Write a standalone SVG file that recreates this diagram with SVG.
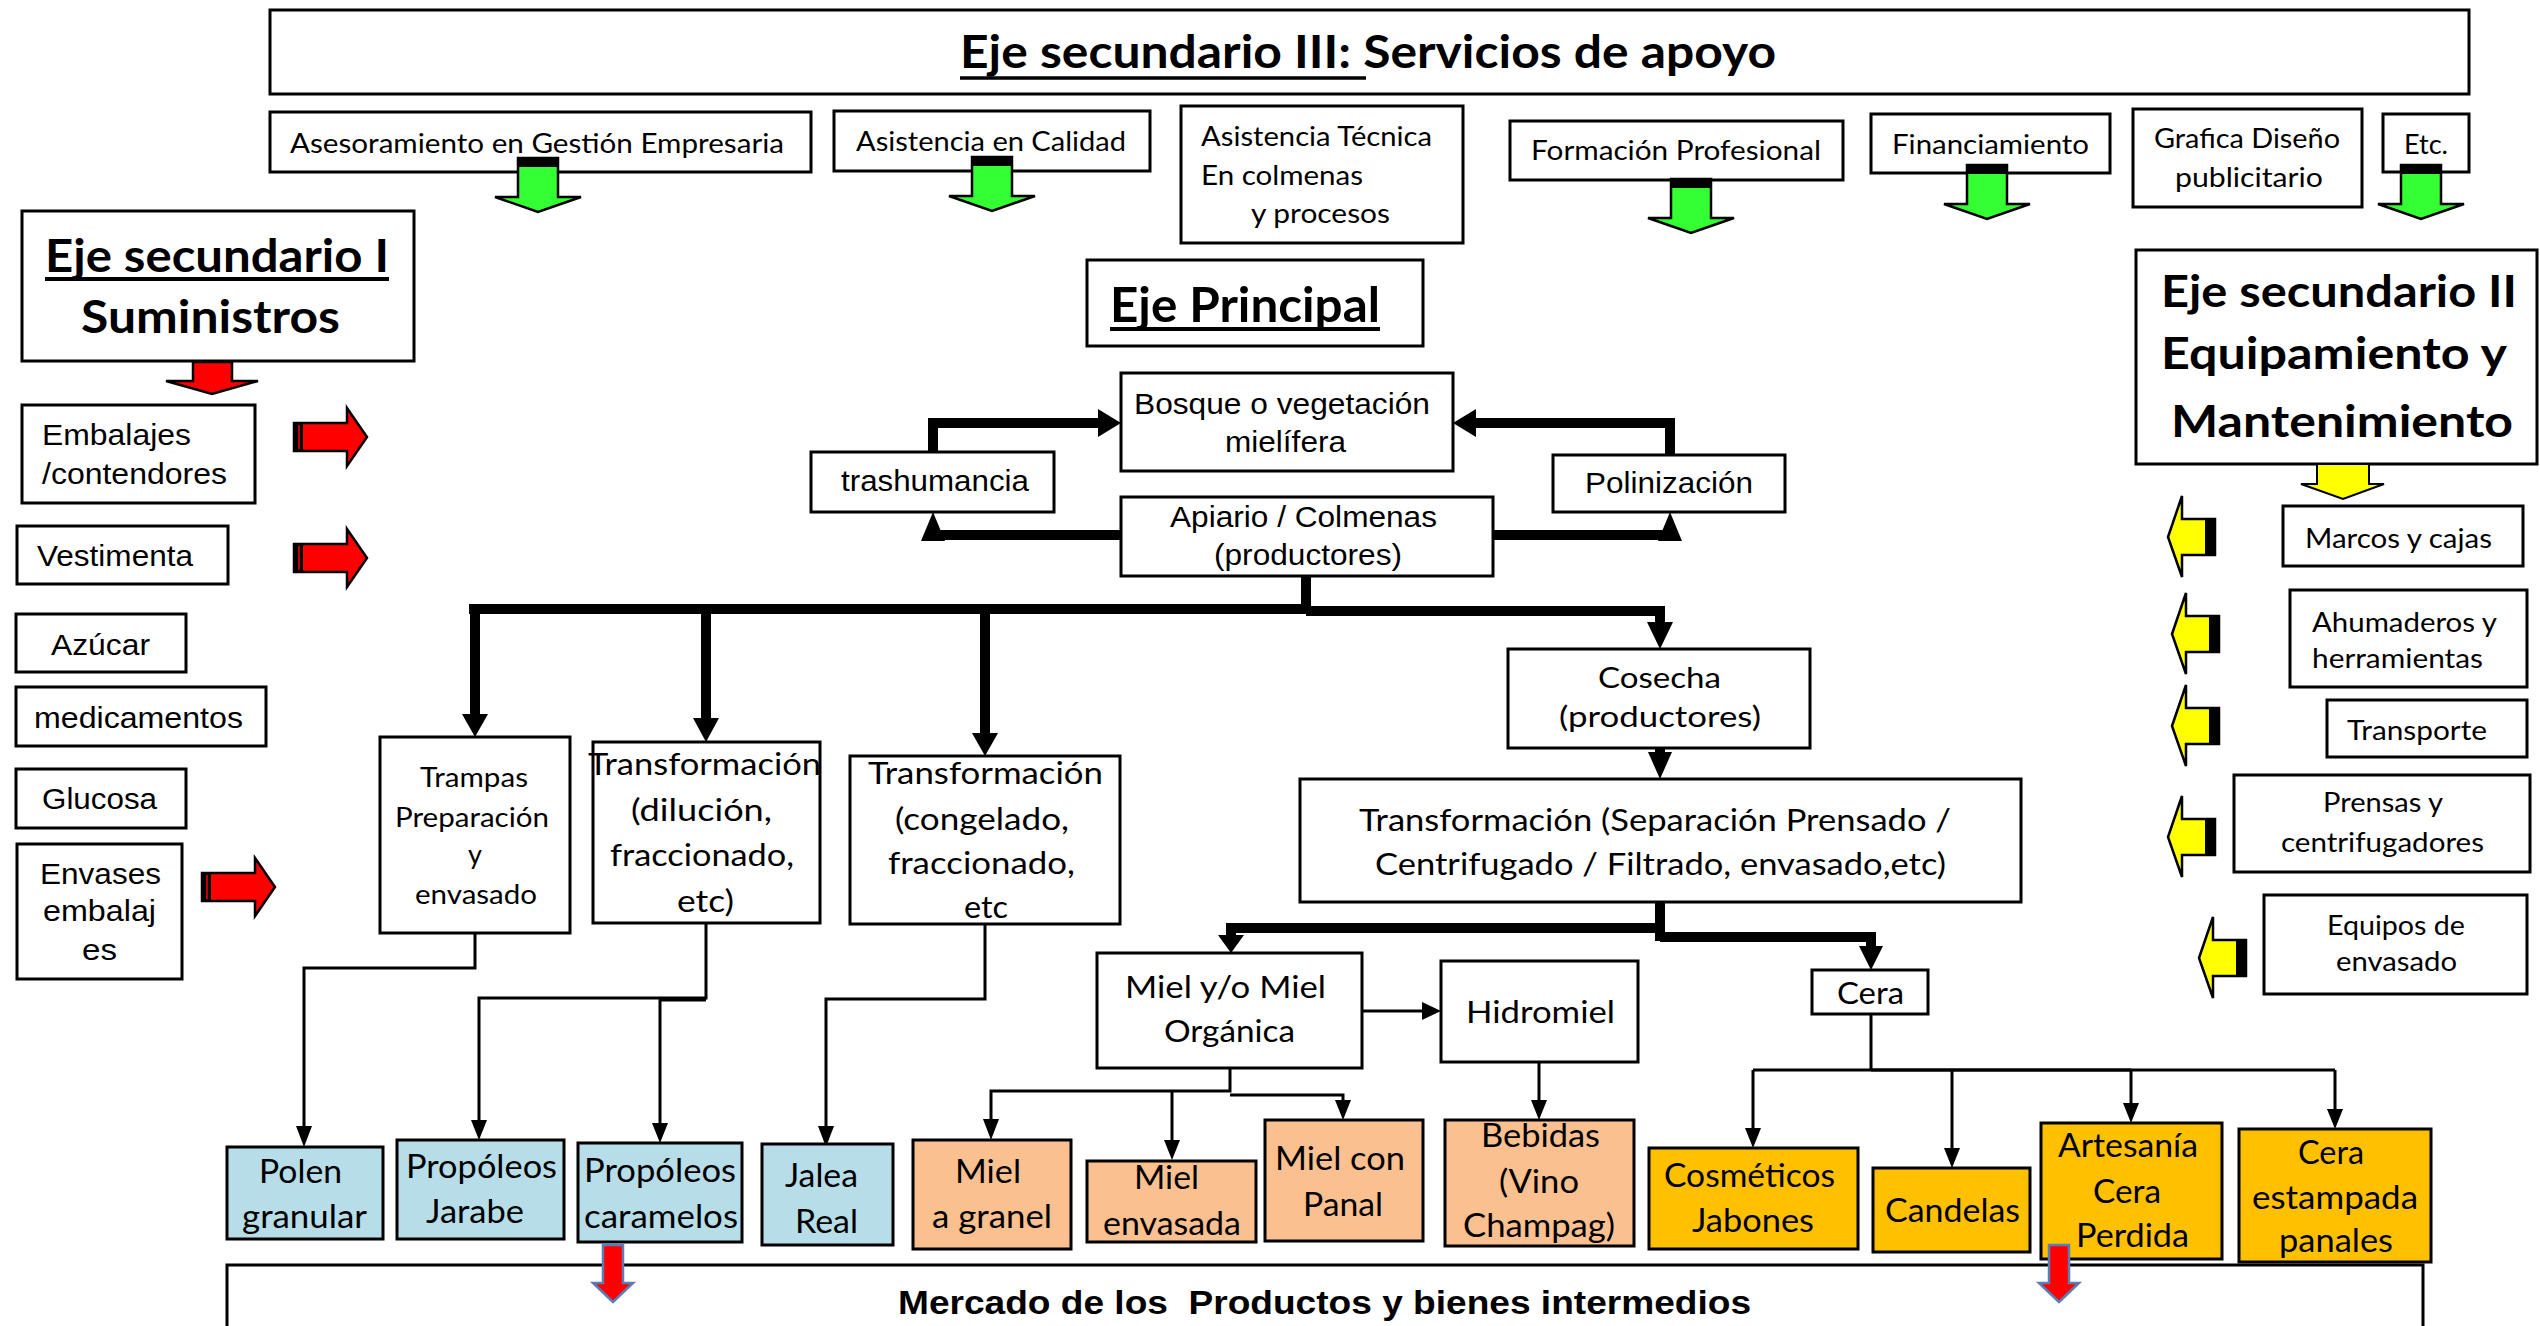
<svg xmlns="http://www.w3.org/2000/svg" xmlns:xlink="http://www.w3.org/1999/xlink" width="2540" height="1326" viewBox="0 0 2540 1326">
<style>
.b{fill:#fff;stroke:#000;stroke-width:3}
.blue{fill:#B7DDE8;stroke:#000;stroke-width:3}
.peach{fill:#FAC090;stroke:#000;stroke-width:3}
.gold{fill:#FFC000;stroke:#000;stroke-width:3}
.c{font-family:Lato,"Open Sans","DejaVu Sans",sans-serif;fill:#000}
.a{font-family:"Liberation Sans",Arial,sans-serif;fill:#000}
.bd{font-weight:bold}
.thick{stroke:#000;stroke-width:10;fill:none}
.thin{stroke:#000;stroke-width:3;fill:none}
.hd{fill:#000}
.ul{stroke:#000;stroke-width:3.5}
</style>
<defs>
<g id="garrow">
<polygon points="-20,0 20,0 20,39 43,39 0,54 -43,39 -20,39" fill="#33FF33" stroke="#000" stroke-width="2.5"/>
<rect x="-20" y="0" width="40" height="9" fill="#000"/>
</g>
<g id="rarrow">
<polygon points="0,-14 53,-14 53,-29 73,0 53,29 53,14 0,14" fill="#FF0000" stroke="#000" stroke-width="2.5"/>
<rect x="0" y="-14" width="9" height="28" fill="#000"/>
<rect x="4" y="-12" width="2" height="24" fill="#C00000"/>
</g>
<g id="yarrow">
<polygon points="0,0 14,-41 14,-18 47,-18 47,18 14,18 14,40" fill="#FFFF00" stroke="#000" stroke-width="2.5"/>
<rect x="37" y="-18" width="10" height="36" fill="#000"/>
</g>
<g id="marrow">
<polygon points="-10,0 10,0 10,38 20,38 0,57 -20,38 -10,38" fill="#FF0000" stroke="#5B7DB5" stroke-width="2.5"/>
</g>
</defs>

<g id="connectors">
<path class="thick" d="M933,452 V423 H1100"/>
<polygon class="hd" points="1098,409 1098,437 1121,423"/>
<path class="thick" d="M1670,455 V423 H1476"/>
<polygon class="hd" points="1476,409 1476,437 1453,423"/>
<path class="thick" d="M1121,535 H928"/>
<polygon class="hd" points="921,541 945,541 933,512"/>
<path class="thick" d="M1493,535 H1675"/>
<polygon class="hd" points="1658,541 1682,541 1670,512"/>
<path class="thick" d="M1306,576 V612"/>
<path class="thick" d="M469,609 H1306" stroke-width="12"/>
<path class="thick" d="M1306,611 H1665" stroke-width="9"/>
<path class="thick" d="M475,609 V716"/>
<polygon class="hd" points="462,714 488,714 475,737"/>
<path class="thick" d="M706,609 V720"/>
<polygon class="hd" points="693,718 719,718 706,742"/>
<path class="thick" d="M985,609 V735"/>
<polygon class="hd" points="972,733 998,733 985,756"/>
<path class="thick" d="M1660,611 V624"/>
<polygon class="hd" points="1647,622 1673,622 1660,649"/>
<path class="thick" d="M1660,748 V754"/>
<polygon class="hd" points="1648,752 1672,752 1660,779"/>
<path class="thick" d="M1660,902 V941"/>
<path class="thick" d="M1665,928 H1231 V937"/>
<polygon class="hd" points="1218,935 1244,935 1231,953"/>
<path class="thick" d="M1660,937 H1871 V948" stroke-width="8"/>
<polygon class="hd" points="1859,946 1883,946 1871,970"/>

<path class="thin" d="M475,933 V968 H304 V1128"/>
<polygon class="hd" points="296,1126 312,1126 304,1147"/>
<path class="thin" d="M706,924 V998 H479 V1122"/>
<polygon class="hd" points="471,1120 487,1120 479,1140"/>
<path class="thin" d="M706,1000 H660 V1125"/>
<polygon class="hd" points="652,1123 668,1123 660,1143"/>
<path class="thin" d="M985,924 V999 H826 V1128"/>
<polygon class="hd" points="818,1126 834,1126 826,1147"/>
<path class="thin" d="M1230,1068 V1091 H991 V1121"/>
<polygon class="hd" points="983,1119 999,1119 991,1140"/>
<path class="thin" d="M1230,1095 H1343 V1102"/>
<polygon class="hd" points="1335,1100 1351,1100 1343,1120"/>
<path class="thin" d="M1172,1091 V1142"/>
<polygon class="hd" points="1164,1140 1180,1140 1172,1160"/>
<path class="thin" d="M1362,1011 H1424" stroke-width="4"/>
<polygon class="hd" points="1422,1002 1422,1020 1441,1011"/>
<path class="thin" d="M1539,1061 V1102"/>
<polygon class="hd" points="1531,1100 1547,1100 1539,1120"/>
<path class="thin" d="M1871,1014 V1070"/>
<path class="thin" d="M1753,1070 H2335"/>
<path class="thin" d="M1871,1070 H2131" stroke-width="6"/>
<path class="thin" d="M1753,1070 V1130"/>
<polygon class="hd" points="1745,1128 1761,1128 1753,1148"/>
<path class="thin" d="M1952,1070 V1150"/>
<polygon class="hd" points="1944,1148 1960,1148 1952,1168"/>
<path class="thin" d="M2131,1070 V1105"/>
<polygon class="hd" points="2123,1103 2139,1103 2131,1123"/>
<path class="thin" d="M2335,1070 V1111"/>
<polygon class="hd" points="2327,1109 2343,1109 2335,1129"/>
</g>

<g id="banner">
<rect class="b" x="270" y="10" width="2199" height="84"/>
<text class="c bd" x="960" y="68" font-size="46" textLength="816" lengthAdjust="spacingAndGlyphs">Eje secundario III: Servicios de apoyo</text>
<line class="ul" x1="960" y1="78" x2="1366" y2="78"/>
</g>
<g id="svc-asesoramiento">
<rect class="b" x="270" y="112" width="541" height="60"/>
<text class="c" x="290" y="153" font-size="27" textLength="494" lengthAdjust="spacingAndGlyphs">Asesoramiento en Gestión Empresaria</text>
</g>
<g id="svc-calidad">
<rect class="b" x="834" y="111" width="316" height="60"/>
<text class="c" x="856" y="151" font-size="27" textLength="270" lengthAdjust="spacingAndGlyphs">Asistencia en Calidad</text>
</g>
<g id="svc-tecnica">
<rect class="b" x="1181" y="106" width="282" height="137"/>
<text class="c" x="1201" y="146" font-size="27" textLength="231" lengthAdjust="spacingAndGlyphs">Asistencia Técnica</text>
<text class="c" x="1201" y="185" font-size="27" textLength="162" lengthAdjust="spacingAndGlyphs">En colmenas</text>
<text class="c" x="1251" y="223" font-size="27" textLength="139" lengthAdjust="spacingAndGlyphs">y procesos</text>
</g>
<g id="svc-formacion">
<rect class="b" x="1510" y="121" width="333" height="59"/>
<text class="c" x="1531" y="160" font-size="27" textLength="290" lengthAdjust="spacingAndGlyphs">Formación Profesional</text>
</g>
<g id="svc-financiamiento">
<rect class="b" x="1871" y="114" width="239" height="59"/>
<text class="c" x="1892" y="154" font-size="27" textLength="197" lengthAdjust="spacingAndGlyphs">Financiamiento</text>
</g>
<g id="svc-grafica">
<rect class="b" x="2133" y="109" width="229" height="98"/>
<text class="c" x="2154" y="148" font-size="27" textLength="186" lengthAdjust="spacingAndGlyphs">Grafica Diseño</text>
<text class="c" x="2175" y="187" font-size="27" textLength="148" lengthAdjust="spacingAndGlyphs">publicitario</text>
</g>
<g id="svc-etc">
<rect class="b" x="2383" y="114" width="86" height="58"/>
<text class="c" x="2404" y="154" font-size="27" textLength="44" lengthAdjust="spacingAndGlyphs">Etc.</text>
</g>
<g id="service-arrows">
<use xlink:href="#garrow" transform="translate(538,158)"/>
<use xlink:href="#garrow" transform="translate(992,157)"/>
<use xlink:href="#garrow" transform="translate(1691,179)"/>
<use xlink:href="#garrow" transform="translate(1987,165)"/>
<use xlink:href="#garrow" transform="translate(2421,165)"/>
</g>

<g id="eje1">
<rect class="b" x="22" y="211" width="392" height="150"/>
<text class="c bd" x="45" y="272" font-size="46" textLength="344" lengthAdjust="spacingAndGlyphs">Eje secundario I</text>
<line x1="45" y1="279" x2="389" y2="279" stroke="#000" stroke-width="4"/>
<text class="c bd" x="81" y="333" font-size="46" textLength="259" lengthAdjust="spacingAndGlyphs">Suministros</text>
<polygon points="193,362 232,362 232,381 258,381 212,394 166,381 193,381" fill="#FF0000" stroke="#000" stroke-width="2.5"/>
</g>
<g id="embalajes">
<rect class="b" x="22" y="405" width="233" height="98"/>
<text class="a" x="42" y="445" font-size="30" textLength="149" lengthAdjust="spacingAndGlyphs">Embalajes</text>
<text class="a" x="42" y="484" font-size="30" textLength="185" lengthAdjust="spacingAndGlyphs">/contendores</text>
</g>
<g id="vestimenta">
<rect class="b" x="17" y="526" width="211" height="58"/>
<text class="a" x="37" y="566" font-size="30" textLength="156" lengthAdjust="spacingAndGlyphs">Vestimenta</text>
</g>
<g id="azucar">
<rect class="b" x="16" y="614" width="170" height="58"/>
<text class="a" x="51" y="655" font-size="30" textLength="99" lengthAdjust="spacingAndGlyphs">Azúcar</text>
</g>
<g id="medicamentos">
<rect class="b" x="16" y="687" width="250" height="59"/>
<text class="a" x="34" y="728" font-size="30" textLength="209" lengthAdjust="spacingAndGlyphs">medicamentos</text>
</g>
<g id="glucosa">
<rect class="b" x="16" y="769" width="170" height="59"/>
<text class="a" x="42" y="809" font-size="30" textLength="115" lengthAdjust="spacingAndGlyphs">Glucosa</text>
</g>
<g id="envases">
<rect class="b" x="17" y="844" width="165" height="135"/>
<text class="a" x="40" y="884" font-size="30" textLength="121" lengthAdjust="spacingAndGlyphs">Envases</text>
<text class="a" x="43" y="921" font-size="30" textLength="113" lengthAdjust="spacingAndGlyphs">embalaj</text>
<text class="a" x="82" y="960" font-size="30" textLength="35" lengthAdjust="spacingAndGlyphs">es</text>
</g>
<g id="supply-arrows">
<use xlink:href="#rarrow" transform="translate(294,437)"/>
<use xlink:href="#rarrow" transform="translate(294,558)"/>
<use xlink:href="#rarrow" transform="translate(202,887)"/>
</g>

<g id="eje-principal">
<rect class="b" x="1087" y="260" width="336" height="86"/>
<text class="c bd" x="1110" y="322" font-size="47" textLength="270" lengthAdjust="spacingAndGlyphs">Eje Principal</text>
<line x1="1110" y1="329" x2="1380" y2="329" stroke="#000" stroke-width="4"/>
</g>
<g id="bosque">
<rect class="b" x="1121" y="373" width="332" height="98"/>
<text class="a" x="1134" y="414" font-size="29" textLength="296" lengthAdjust="spacingAndGlyphs">Bosque o vegetación</text>
<text class="a" x="1225" y="452" font-size="29" textLength="121" lengthAdjust="spacingAndGlyphs">mielífera</text>
</g>
<g id="trashumancia">
<rect class="b" x="811" y="452" width="243" height="60"/>
<text class="a" x="841" y="491" font-size="29" textLength="188" lengthAdjust="spacingAndGlyphs">trashumancia</text>
</g>
<g id="polinizacion">
<rect class="b" x="1553" y="455" width="232" height="57"/>
<text class="a" x="1585" y="493" font-size="29" textLength="168" lengthAdjust="spacingAndGlyphs">Polinización</text>
</g>
<g id="apiario">
<rect class="b" x="1121" y="497" width="372" height="79"/>
<text class="a" x="1170" y="527" font-size="29" textLength="267" lengthAdjust="spacingAndGlyphs">Apiario / Colmenas</text>
<text class="a" x="1214" y="565" font-size="29" textLength="188" lengthAdjust="spacingAndGlyphs">(productores)</text>
</g>
<g id="trampas">
<rect class="b" x="380" y="737" width="190" height="196"/>
<text class="c" x="420" y="787" font-size="27" textLength="108" lengthAdjust="spacingAndGlyphs">Trampas</text>
<text class="c" x="395" y="827" font-size="27" textLength="154" lengthAdjust="spacingAndGlyphs">Preparación</text>
<text class="c" x="475" y="864" font-size="27" text-anchor="middle">y</text>
<text class="c" x="415" y="904" font-size="27" textLength="122" lengthAdjust="spacingAndGlyphs">envasado</text>
</g>
<g id="transf-dilucion">
<rect class="b" x="593" y="742" width="227" height="181"/>
<text class="c" x="588" y="775" font-size="31" textLength="233" lengthAdjust="spacingAndGlyphs">Transformación</text>
<text class="c" x="631" y="821" font-size="31" textLength="141" lengthAdjust="spacingAndGlyphs">(dilución,</text>
<text class="c" x="610" y="866" font-size="31" textLength="184" lengthAdjust="spacingAndGlyphs">fraccionado,</text>
<text class="c" x="677" y="912" font-size="31" textLength="57" lengthAdjust="spacingAndGlyphs">etc)</text>
</g>
<g id="transf-congelado">
<rect class="b" x="850" y="756" width="270" height="168"/>
<text class="c" x="868" y="784" font-size="31" textLength="235" lengthAdjust="spacingAndGlyphs">Transformación</text>
<text class="c" x="895" y="830" font-size="31" textLength="174" lengthAdjust="spacingAndGlyphs">(congelado,</text>
<text class="c" x="888" y="874" font-size="31" textLength="187" lengthAdjust="spacingAndGlyphs">fraccionado,</text>
<text class="c" x="964" y="918" font-size="31" textLength="44" lengthAdjust="spacingAndGlyphs">etc</text>
</g>
<g id="cosecha">
<rect class="b" x="1508" y="649" width="302" height="99"/>
<text class="c" x="1598" y="688" font-size="29" textLength="123" lengthAdjust="spacingAndGlyphs">Cosecha</text>
<text class="c" x="1559" y="727" font-size="29" textLength="202" lengthAdjust="spacingAndGlyphs">(productores)</text>
</g>
<g id="transf-separacion">
<rect class="b" x="1300" y="779" width="721" height="123"/>
<text class="c" x="1359" y="831" font-size="30" textLength="592" lengthAdjust="spacingAndGlyphs">Transformación (Separación Prensado /</text>
<text class="c" x="1375" y="875" font-size="30" textLength="571" lengthAdjust="spacingAndGlyphs">Centrifugado / Filtrado, envasado,etc)</text>
</g>
<g id="miel-organica">
<rect class="b" x="1097" y="953" width="265" height="115"/>
<text class="c" x="1125" y="998" font-size="30" textLength="201" lengthAdjust="spacingAndGlyphs">Miel y/o Miel</text>
<text class="c" x="1164" y="1042" font-size="30" textLength="131" lengthAdjust="spacingAndGlyphs">Orgánica</text>
</g>
<g id="hidromiel">
<rect class="b" x="1441" y="961" width="197" height="101"/>
<text class="c" x="1466" y="1023" font-size="30" textLength="149" lengthAdjust="spacingAndGlyphs">Hidromiel</text>
</g>
<g id="cera">
<rect class="b" x="1812" y="970" width="116" height="44"/>
<text class="c" x="1837" y="1004" font-size="30" textLength="67" lengthAdjust="spacingAndGlyphs">Cera</text>
</g>

<g id="eje2">
<rect class="b" x="2136" y="250" width="401" height="214"/>
<text class="c bd" x="2161" y="307" font-size="44" textLength="356" lengthAdjust="spacingAndGlyphs">Eje secundario II</text>
<text class="c bd" x="2161" y="369" font-size="44" textLength="346" lengthAdjust="spacingAndGlyphs">Equipamiento y</text>
<text class="c bd" x="2171" y="437" font-size="44" textLength="342" lengthAdjust="spacingAndGlyphs">Mantenimiento</text>
<polygon points="2317,464 2369,464 2369,484 2384,484 2343,499 2301,484 2317,484" fill="#FFFF00" stroke="#000" stroke-width="2"/>
</g>
<g id="marcos">
<rect class="b" x="2283" y="506" width="240" height="60"/>
<text class="c" x="2305" y="548" font-size="27" textLength="187" lengthAdjust="spacingAndGlyphs">Marcos y cajas</text>
</g>
<g id="ahumaderos">
<rect class="b" x="2290" y="590" width="237" height="97"/>
<text class="c" x="2312" y="632" font-size="27" textLength="185" lengthAdjust="spacingAndGlyphs">Ahumaderos y</text>
<text class="c" x="2312" y="668" font-size="27" textLength="171" lengthAdjust="spacingAndGlyphs">herramientas</text>
</g>
<g id="transporte">
<rect class="b" x="2327" y="700" width="200" height="57"/>
<text class="c" x="2347" y="740" font-size="27" textLength="140" lengthAdjust="spacingAndGlyphs">Transporte</text>
</g>
<g id="prensas">
<rect class="b" x="2234" y="775" width="296" height="97"/>
<text class="c" x="2323" y="812" font-size="27" textLength="120" lengthAdjust="spacingAndGlyphs">Prensas y</text>
<text class="c" x="2281" y="852" font-size="27" textLength="203" lengthAdjust="spacingAndGlyphs">centrifugadores</text>
</g>
<g id="equipos">
<rect class="b" x="2264" y="895" width="263" height="99"/>
<text class="c" x="2327" y="935" font-size="27" textLength="138" lengthAdjust="spacingAndGlyphs">Equipos de</text>
<text class="c" x="2336" y="971" font-size="27" textLength="121" lengthAdjust="spacingAndGlyphs">envasado</text>
</g>
<g id="equip-arrows">
<use xlink:href="#yarrow" transform="translate(2168,537)"/>
<use xlink:href="#yarrow" transform="translate(2172,634)"/>
<use xlink:href="#yarrow" transform="translate(2172,726)"/>
<use xlink:href="#yarrow" transform="translate(2168,837)"/>
<use xlink:href="#yarrow" transform="translate(2199,958)"/>
</g>

<g id="polen">
<rect class="blue" x="227" y="1147" width="156" height="92"/>
<text class="c" x="259" y="1183" font-size="32" textLength="83" lengthAdjust="spacingAndGlyphs">Polen</text>
<text class="c" x="242" y="1228" font-size="32" textLength="125" lengthAdjust="spacingAndGlyphs">granular</text>
</g>
<g id="propoleos-jarabe">
<rect class="blue" x="397" y="1140" width="167" height="99"/>
<text class="c" x="406" y="1178" font-size="32" textLength="151" lengthAdjust="spacingAndGlyphs">Propóleos</text>
<text class="c" x="426" y="1223" font-size="32" textLength="98" lengthAdjust="spacingAndGlyphs">Jarabe</text>
</g>
<g id="propoleos-caramelos">
<rect class="blue" x="578" y="1143" width="164" height="99"/>
<text class="c" x="584" y="1182" font-size="32" textLength="152" lengthAdjust="spacingAndGlyphs">Propóleos</text>
<text class="c" x="584" y="1228" font-size="32" textLength="154" lengthAdjust="spacingAndGlyphs">caramelos</text>
</g>
<g id="jalea">
<rect class="blue" x="762" y="1144" width="131" height="101"/>
<text class="c" x="785" y="1187" font-size="32" textLength="73" lengthAdjust="spacingAndGlyphs">Jalea</text>
<text class="c" x="795" y="1233" font-size="32" textLength="63" lengthAdjust="spacingAndGlyphs">Real</text>
</g>
<g id="miel-granel">
<rect class="peach" x="913" y="1140" width="158" height="109"/>
<text class="c" x="955" y="1183" font-size="32" textLength="66" lengthAdjust="spacingAndGlyphs">Miel</text>
<text class="c" x="932" y="1228" font-size="32" textLength="120" lengthAdjust="spacingAndGlyphs">a granel</text>
</g>
<g id="miel-envasada">
<rect class="peach" x="1087" y="1161" width="169" height="81"/>
<text class="c" x="1134" y="1189" font-size="32" textLength="65" lengthAdjust="spacingAndGlyphs">Miel</text>
<text class="c" x="1103" y="1235" font-size="32" textLength="138" lengthAdjust="spacingAndGlyphs">envasada</text>
</g>
<g id="miel-panal">
<rect class="peach" x="1265" y="1120" width="158" height="121"/>
<text class="c" x="1275" y="1170" font-size="32" textLength="130" lengthAdjust="spacingAndGlyphs">Miel con</text>
<text class="c" x="1303" y="1216" font-size="32" textLength="80" lengthAdjust="spacingAndGlyphs">Panal</text>
</g>
<g id="bebidas">
<rect class="peach" x="1445" y="1120" width="189" height="126"/>
<text class="c" x="1481" y="1147" font-size="32" textLength="119" lengthAdjust="spacingAndGlyphs">Bebidas</text>
<text class="c" x="1499" y="1193" font-size="32" textLength="80" lengthAdjust="spacingAndGlyphs">(Vino</text>
<text class="c" x="1463" y="1237" font-size="32" textLength="152" lengthAdjust="spacingAndGlyphs">Champag)</text>
</g>
<g id="cosmeticos">
<rect class="gold" x="1649" y="1148" width="209" height="101"/>
<text class="c" x="1664" y="1187" font-size="32" textLength="171" lengthAdjust="spacingAndGlyphs">Cosméticos</text>
<text class="c" x="1692" y="1232" font-size="32" textLength="122" lengthAdjust="spacingAndGlyphs">Jabones</text>
</g>
<g id="candelas">
<rect class="gold" x="1873" y="1168" width="157" height="84"/>
<text class="c" x="1885" y="1222" font-size="32" textLength="135" lengthAdjust="spacingAndGlyphs">Candelas</text>
</g>
<g id="artesania">
<rect class="gold" x="2041" y="1123" width="181" height="136"/>
<text class="c" x="2058" y="1157" font-size="32" textLength="140" lengthAdjust="spacingAndGlyphs">Artesanía</text>
<text class="c" x="2093" y="1203" font-size="32" textLength="68" lengthAdjust="spacingAndGlyphs">Cera</text>
<text class="c" x="2076" y="1247" font-size="32" textLength="113" lengthAdjust="spacingAndGlyphs">Perdida</text>
</g>
<g id="cera-estampada">
<rect class="gold" x="2239" y="1129" width="192" height="133"/>
<text class="c" x="2298" y="1164" font-size="32" textLength="66" lengthAdjust="spacingAndGlyphs">Cera</text>
<text class="c" x="2252" y="1209" font-size="32" textLength="166" lengthAdjust="spacingAndGlyphs">estampada</text>
<text class="c" x="2279" y="1252" font-size="32" textLength="114" lengthAdjust="spacingAndGlyphs">panales</text>
</g>

<g id="mercado">
<rect class="b" x="227" y="1265" width="2196" height="80"/>
<text class="a bd" x="898" y="1314" font-size="34" xml:space="preserve" textLength="853" lengthAdjust="spacingAndGlyphs">Mercado de los  Productos y bienes intermedios</text>
</g>
<g id="market-arrows">
<use xlink:href="#marrow" transform="translate(613,1245)"/>
<use xlink:href="#marrow" transform="translate(2059,1245)"/>
</g>
</svg>
